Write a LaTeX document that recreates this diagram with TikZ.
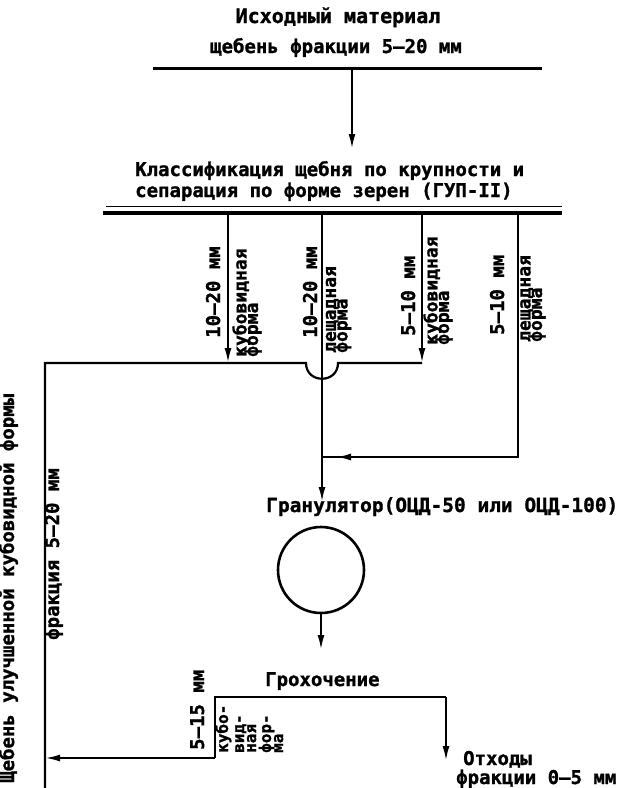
\documentclass[tikz,border=0pt]{standalone}
\usepackage{fontspec}
\setmainfont{DejaVu Sans Mono}[BoldFont={DejaVu Sans Mono Bold}, BoldFeatures={FakeBold=1.2}]
\usetikzlibrary{arrows.meta}
\newcommand\tightlines{\lineskiplimit=-50pt\relax\lineskip=0pt\relax}
\begin{document}
\begin{tikzpicture}[x=1pt,y=-1pt,
  txt/.style={font=\fontsize{19}{22}\selectfont\bfseries, inner sep=0pt},
  bigtxt/.style={font=\fontsize{20}{22}\selectfont\bfseries, inner sep=0pt},
  rot/.style={txt, rotate=90},
  lab/.style={font=\fontsize{18}{11.5}\selectfont\bfseries\tightlines, inner sep=0pt, rotate=90, align=left},
  collab/.style={font=\fontsize{16}{14}\selectfont\bfseries, inner sep=0pt, rotate=90, anchor=base west},
  ln/.style={line width=2.2pt},
  arr/.style={ln, -{Latex[length=15pt,width=7pt]}},
]
\fill[white] (0,0) rectangle (620,788);
\useasboundingbox (0,0) rectangle (620,788);

% top
\node[bigtxt, anchor=base] (t1) at (338,23) {Исходный материал};
\node[txt, anchor=base] (t2) at (336,53) {щебень фракции 5–20 мм};
\coordinate (barL) at (153,68);
\coordinate (barR) at (542,68);
\draw[line width=3pt] (barL) -- (barR);
\coordinate (a0) at (352,68);
\coordinate (a0e) at (352,149);
\draw[arr] (a0) -- (a0e);

\node[txt, anchor=base west] (c1) at (135,176) {Классификация щебня по крупности и};
\node[txt, anchor=base west] (c2) at (135,197) {сепарация по форме зерен (ГУП-II)};
\coordinate (dl1) at (106,206);
\coordinate (dr1) at (562,206);
\coordinate (dl2) at (103,213);
\coordinate (dr2) at (562,213);
\draw[line width=1pt] (dl1) -- (dr1);
\draw[line width=3.5pt] (dl2) -- (dr2);

% outlets
\coordinate (s1) at (228,213);
\coordinate (s2) at (322,213);
\coordinate (s3) at (422,213);
\coordinate (s4) at (518,213);
\coordinate (j1) at (228,363);
\coordinate (j3) at (422,363);
\coordinate (bR) at (338,363);
\coordinate (bL) at (306,363);
\coordinate (hL) at (45,363);
\coordinate (hB) at (45,758);
\coordinate (bot) at (45,790);
\draw[arr] (s1) -- (j1);
\draw[arr] (s3) -- (j3);
\draw[ln, line join=miter] (j3) -- (bR) .. controls (338,384) and (306,384) .. (bL) -- (hL) -- (bot);

\coordinate (m4) at (322,457);
\draw[ln] (s4) |- (m4);
\coordinate (mk) at (358,457);
\coordinate (mt) at (336,457);
\draw[arr] (mk) -- (mt);

\coordinate (g) at (322,502);
\draw[arr] (s2) -- (g);

% labels on outlets
\node[rot, anchor=base west] (l1) at (220,338) {10–20 мм};
\node[lab, anchor=west] (k1) at (247,357) {кубовидная\\форма};
\node[rot, anchor=base west] (l2) at (317,338) {10–20 мм};
\node[lab, anchor=west] (k2) at (338.5,353) {лещадная\\форма};
\node[rot, anchor=base west] (l3) at (415,336) {5–10 мм};
\node[lab, anchor=west] (k3) at (438,345) {кубовидная\\форма};
\node[rot, anchor=base west] (l4) at (504,335) {5–10 мм};
\node[lab, anchor=west] (k4) at (533,342) {лещадная\\форма};

% granulator
\node[txt, font=\fontsize{19.5}{22}\selectfont\bfseries, anchor=base west] (gl) at (266,512) {Гранулятор(ОЦД-50 или ОЦД-100)};
\node[draw, circle, line width=2.6pt, minimum size=86pt, inner sep=0pt] (gr) at (321,570) {};
\coordinate (g2) at (321,650);
\draw[arr] (gr.south) -- (g2);

% screening
\node[txt, anchor=base west] (gh) at (265,686) {Грохочение};
\coordinate (gL) at (215,758);
\coordinate (gTL) at (215,697);
\coordinate (gTR) at (446,697);
\coordinate (otx) at (446,761);
\draw[ln, line join=miter] (gL) -- (gTL) -- (gTR);
\draw[arr] (gTR) -- (otx);
\draw[arr] (gL) -- (hB);
\node[rot, anchor=base west] (l5) at (204,750) {5–15 мм};
\node[collab] (k5a) at (228,753) {кубо-};
\node[collab] (k5b) at (244,753) {вид-};
\node[collab] (k5c) at (256,753) {ная};
\node[collab] (k5d) at (271,753) {фор-};
\node[collab] (k5e) at (283,753) {ма};

\node[txt, anchor=base west] (o1) at (463,765) {Отходы};
\node[txt, anchor=base west] (o2) at (456,784) {фракции 0–5 мм};

% left output
\node[rot, anchor=base west] (lt) at (14,783) {Щебень улучшенной кубовидной формы};
\node[rot, anchor=base west] (lf) at (59,640) {фракция 5–20 мм};
\end{tikzpicture}
\end{document}
